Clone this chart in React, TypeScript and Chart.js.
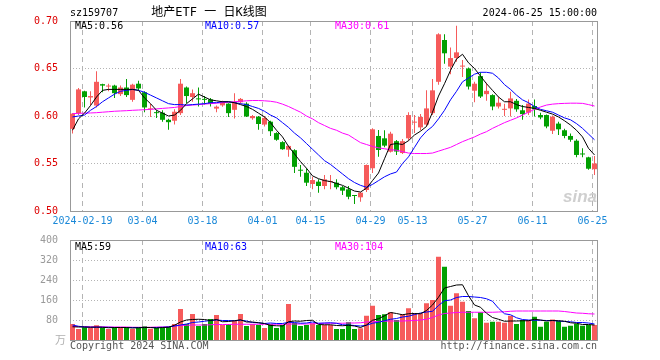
import React, { useEffect, useRef } from "react";
import { Chart, registerables } from "chart.js";

Chart.register(...registerables);

// ---------------- data ----------------
const TICK_INDEX = [2, 12, 22, 32, 40, 50, 57, 67, 77, 87];
const TICK_LABELS = ["2024-02-19", "03-04", "03-18", "04-01", "04-15", "04-29", "05-13", "05-27", "06-11", "06-25"];
const PRICE_TICKS = [0.5, 0.55, 0.6, 0.65, 0.7];
const VOL_TICKS = [0, 80, 160, 240, 320, 400];

const OPEN = [
  0.5865, 0.603, 0.626, 0.6195, 0.611, 0.6335, 0.631, 0.632, 0.623, 0.63,
  0.617, 0.634, 0.625, 0.607, 0.604, 0.6035, 0.596, 0.595, 0.603, 0.63,
  0.62, 0.618, 0.618, 0.6175, 0.6078, 0.6112, 0.613, 0.6065, 0.6145, 0.613,
  0.5977, 0.5993, 0.591, 0.594, 0.582, 0.5725, 0.5645, 0.564, 0.5428, 0.5403,
  0.5284, 0.5309, 0.5263, 0.5305, 0.5298, 0.525, 0.5228, 0.516, 0.5144, 0.5221,
  0.545, 0.579, 0.5765, 0.5624, 0.5735, 0.561, 0.5765, 0.593, 0.588, 0.591,
  0.603, 0.636, 0.68, 0.652, 0.661, 0.652, 0.65, 0.6266, 0.642, 0.623,
  0.622, 0.61, 0.6065, 0.608, 0.616, 0.606, 0.6035, 0.6105, 0.601, 0.601,
  0.5845, 0.592, 0.585, 0.579, 0.574, 0.5605, 0.5565, 0.544,
];
const HIGH = [
  0.603, 0.6295, 0.6265, 0.626, 0.647, 0.634, 0.634, 0.633, 0.632, 0.639,
  0.634, 0.637, 0.626, 0.613, 0.606, 0.606, 0.597, 0.607, 0.639, 0.631,
  0.628, 0.63, 0.621, 0.619, 0.611, 0.616, 0.6135, 0.624, 0.619, 0.6145,
  0.601, 0.6, 0.6, 0.595, 0.583, 0.5735, 0.569, 0.565, 0.5484, 0.545,
  0.536, 0.5335, 0.538, 0.538, 0.5333, 0.5263, 0.5263, 0.5165, 0.52, 0.549,
  0.587, 0.5853, 0.585, 0.5835, 0.5747, 0.5758, 0.604, 0.601, 0.602, 0.627,
  0.639, 0.687, 0.686, 0.672, 0.695, 0.659, 0.651, 0.636, 0.646, 0.635,
  0.623, 0.62, 0.613, 0.6255, 0.618, 0.6115, 0.6175, 0.6175, 0.6035, 0.6015,
  0.6005, 0.594, 0.5865, 0.5815, 0.5755, 0.566, 0.557, 0.558,
];
const LOW = [
  0.5815, 0.601, 0.609, 0.611, 0.609, 0.625, 0.626, 0.619, 0.621, 0.62,
  0.615, 0.627, 0.604, 0.599, 0.598, 0.594, 0.5855, 0.591, 0.601, 0.6135,
  0.615, 0.61, 0.612, 0.61, 0.604, 0.6098, 0.599, 0.5975, 0.613, 0.599,
  0.596, 0.5855, 0.589, 0.579, 0.574, 0.5645, 0.557, 0.54, 0.5361, 0.5263,
  0.5228, 0.5193, 0.523, 0.5228, 0.5228, 0.5168, 0.5123, 0.5074, 0.5098, 0.52,
  0.54, 0.557, 0.567, 0.5615, 0.559, 0.56, 0.574, 0.582, 0.585, 0.589,
  0.601, 0.633, 0.655, 0.644, 0.657, 0.641, 0.628, 0.6145, 0.619, 0.616,
  0.606, 0.608, 0.6, 0.5995, 0.6045, 0.596, 0.601, 0.5995, 0.5965, 0.587,
  0.581, 0.58, 0.5765, 0.573, 0.5565, 0.5565, 0.5435, 0.538,
];
const CLOSE = [
  0.6025, 0.628, 0.62, 0.621, 0.636, 0.632, 0.632, 0.624, 0.63, 0.622,
  0.633, 0.629, 0.609, 0.608, 0.603, 0.596, 0.5935, 0.6045, 0.634, 0.621,
  0.624, 0.6175, 0.617, 0.613, 0.6098, 0.6147, 0.603, 0.615, 0.618, 0.5995,
  0.6, 0.5916, 0.598, 0.584, 0.575, 0.565, 0.5685, 0.5465, 0.5424, 0.5298,
  0.5326, 0.5263, 0.5333, 0.531, 0.525, 0.5214, 0.515, 0.5158, 0.5193, 0.5484,
  0.586, 0.5642, 0.5688, 0.5814, 0.5626, 0.5735, 0.601, 0.594, 0.599, 0.608,
  0.627, 0.686, 0.666, 0.661, 0.667, 0.653, 0.631, 0.634, 0.6205, 0.6265,
  0.61, 0.614, 0.607, 0.6185, 0.607, 0.602, 0.613, 0.607, 0.5985, 0.589,
  0.5993, 0.586, 0.579, 0.575, 0.559, 0.5595, 0.5445, 0.55,
];
const MA5 = [
  0.585, 0.597, 0.603, 0.611, 0.62, 0.627, 0.628, 0.628, 0.628, 0.628,
  0.628, 0.627, 0.619, 0.613, 0.606, 0.603, 0.6, 0.601, 0.606, 0.613,
  0.618, 0.623, 0.62, 0.617, 0.616, 0.615, 0.615, 0.614, 0.612, 0.61,
  0.607, 0.603, 0.599, 0.593, 0.585, 0.578, 0.568, 0.56, 0.552, 0.545,
  0.537, 0.534, 0.532, 0.531, 0.529, 0.527, 0.524, 0.521, 0.52, 0.524,
  0.532, 0.54, 0.555, 0.57, 0.571, 0.57, 0.574, 0.58, 0.584, 0.589,
  0.604, 0.621, 0.634, 0.648, 0.66, 0.665, 0.656, 0.65, 0.642, 0.634,
  0.627, 0.62, 0.615, 0.615, 0.612, 0.61, 0.609, 0.608, 0.606, 0.604,
  0.602, 0.599, 0.595, 0.5905, 0.585, 0.578, 0.566, 0.559,
];
const MA10 = [
  0.599, 0.6, 0.601, 0.606, 0.61, 0.615, 0.619, 0.623, 0.626, 0.627,
  0.628, 0.627, 0.625, 0.622, 0.619, 0.616, 0.613, 0.612, 0.612, 0.6115,
  0.612, 0.6125, 0.613, 0.614, 0.614, 0.615, 0.615, 0.614, 0.613, 0.612,
  0.61, 0.608, 0.605, 0.601, 0.598, 0.593, 0.588, 0.582, 0.577, 0.571,
  0.565, 0.559, 0.553, 0.549, 0.544, 0.539, 0.534, 0.53, 0.527, 0.525,
  0.528, 0.532, 0.536, 0.539, 0.541, 0.55, 0.557, 0.567, 0.577, 0.584,
  0.589, 0.597, 0.606, 0.617, 0.626, 0.636, 0.64, 0.644, 0.646, 0.646,
  0.645, 0.64, 0.633, 0.628, 0.622, 0.617, 0.614, 0.61, 0.607, 0.6055,
  0.604, 0.601, 0.598, 0.596, 0.592, 0.587, 0.581, 0.575,
];
const MA30 = [
  0.6025, 0.6028, 0.603, 0.6032, 0.6035, 0.604, 0.6045, 0.605, 0.6053, 0.6056,
  0.606, 0.6063, 0.6066, 0.607, 0.6075, 0.608, 0.6085, 0.609, 0.61, 0.611,
  0.6115, 0.612, 0.6125, 0.613, 0.6135, 0.614, 0.6145, 0.615, 0.6155, 0.616,
  0.6163, 0.6163, 0.616, 0.6155, 0.6145, 0.6125, 0.61, 0.607, 0.604, 0.6,
  0.597, 0.593, 0.59, 0.587, 0.585, 0.582, 0.58, 0.576, 0.572, 0.57,
  0.568, 0.5665, 0.5655, 0.5645, 0.564, 0.5625, 0.561, 0.5605, 0.5605, 0.5605,
  0.561, 0.563, 0.565, 0.567, 0.57, 0.573, 0.5755, 0.578, 0.581, 0.5835,
  0.587, 0.59, 0.593, 0.5955, 0.598, 0.601, 0.604, 0.607, 0.6095, 0.6115,
  0.6125, 0.613, 0.6133, 0.6135, 0.6135, 0.6133, 0.612, 0.6105,
];
const VOLUME = [
  64, 44, 51, 48, 59, 49, 44, 51, 48, 51,
  44, 49, 55, 45, 48, 51, 53, 64, 124, 64,
  104, 56, 64, 84, 100, 60, 64, 77, 104, 56,
  64, 60, 48, 64, 48, 60, 144, 68, 56, 60,
  67, 60, 60, 60, 44, 44, 71, 44, 47, 97,
  137, 100, 103, 111, 80, 103, 127, 107, 107, 147,
  160, 333, 293, 137, 187, 153, 116, 87, 111, 69,
  73, 73, 69, 97, 64, 80, 80, 93, 53, 73,
  82, 76, 53, 57, 65, 57, 60, 60,
];
const VOL_MA5 = [
  53, 52, 52, 51, 52, 51, 49, 50, 50, 50,
  48, 49, 50, 50, 48, 50, 51, 59, 72, 80,
  82, 83, 82, 78, 82, 73, 74, 77, 81, 72,
  72, 69, 66, 58, 57, 56, 73, 76, 75, 78,
  79, 62, 61, 61, 58, 57, 59, 56, 50, 60,
  79, 85, 97, 110, 106, 101, 105, 106, 105, 118,
  140, 171, 208, 214, 220, 221, 177, 140, 131, 107,
  90, 83, 75, 76, 76, 77, 77, 83, 80, 76,
  78, 77, 75, 69, 67, 62, 62, 60,
];
const VOL_MA10 = [
  60, 55, 52, 51, 51, 51, 51, 50, 50, 50,
  50, 50, 50, 50, 50, 51, 52, 56, 60, 64,
  70, 72, 75, 78, 80, 78, 78, 77, 79, 76,
  70, 69, 66, 68, 66, 66, 71, 70, 67, 68,
  72, 67, 68, 69, 67, 61, 60, 58, 56, 59,
  67, 71, 77, 83, 86, 92, 95, 102, 108, 112,
  115, 138, 157, 160, 170, 174, 174, 172, 170, 165,
  155, 127, 105, 101, 89, 82, 80, 79, 79, 78,
  78, 76, 74, 73, 70, 70, 68, 64,
];
const VOL_MA30 = [
  54, 54, 54, 53, 53, 53, 52, 52, 52, 52,
  51, 51, 51, 51, 52, 52, 53, 56, 58, 59,
  60, 60, 60, 61, 62, 62, 62, 63, 63, 63,
  63, 63, 63, 63, 63, 63, 64, 64, 64, 64,
  65, 66, 67, 67, 67, 67, 68, 68, 69, 72,
  73, 74, 75, 76, 76, 76, 77, 78, 80, 83,
  90, 100, 106, 108, 110, 111, 111, 111, 111, 111,
  111, 112, 113, 115, 116, 116, 116, 116, 116, 116,
  116, 116, 114, 111, 108, 107, 105, 104,
];

const CODE_TEXT = "sz159707";
const TITLE_TEXT = "地产ETF 一 日K线图";
const DATE_TEXT = "2024-06-25 15:00:00";
const PRICE_LEGEND = ["MA5:0.56", "MA10:0.57", "MA30:0.61"];
const VOL_LEGEND = ["MA5:59", "MA10:63", "MA30:104"];
const VOL_UNIT = "万";
const COPYRIGHT = "Copyright 2024 SINA.COM";
const SITE = "http://finance.sina.com.cn";

// ---------------- styles ----------------
const RED = "#f65b5b";
const GREEN = "#02a002";
const MA_COLORS = ["#000000", "#0000ff", "#ff00ff"];
const DATE_COLOR = "#1a88d8";
const GRID = "#b4b4b4";
const BORDER = "#999999";
const MONO = "'DejaVu Sans Mono', 'Liberation Mono', monospace";
const X_MIN = -5 / 12;
const X_MAX = 88 - 5 / 12;

const upColor = (i: number) => (CLOSE[i] >= OPEN[i] ? RED : GREEN);
const pts = (arr: number[]) => arr.map((v, i) => ({ x: i, y: v }));

function framePlugin(id: string, hValues: number[]) {
  return {
    id,
    beforeDatasetsDraw(chart: any) {
      const { ctx, chartArea: a, scales } = chart;
      const x = scales.x;
      const y = scales.y;
      ctx.save();
      ctx.lineWidth = 1;
      ctx.strokeStyle = GRID;
      ctx.setLineDash([1, 2]);
      for (const v of hValues) {
        const py = Math.round(y.getPixelForValue(v)) + 0.5;
        ctx.beginPath();
        ctx.moveTo(a.left, py);
        ctx.lineTo(a.right, py);
        ctx.stroke();
      }
      ctx.setLineDash([5, 4]);
      for (const i of TICK_INDEX) {
        const px = Math.round(x.getPixelForValue(i - 0.5)) + 0.5;
        ctx.beginPath();
        ctx.moveTo(px, a.top);
        ctx.lineTo(px, a.bottom);
        ctx.stroke();
      }
      ctx.setLineDash([]);
      ctx.strokeStyle = BORDER;
      ctx.strokeRect(Math.round(a.left) + 0.5, Math.round(a.top) + 0.5, Math.round(a.width) - 1, Math.round(a.height));
      ctx.restore();
    },
  };
}

const dateLabelPlugin = {
  id: "dateLabels",
  afterDraw(chart: any) {
    const { ctx, scales } = chart;
    ctx.save();
    ctx.font = `10px ${MONO}`;
    ctx.fillStyle = DATE_COLOR;
    ctx.textAlign = "center";
    ctx.textBaseline = "middle";
    TICK_INDEX.forEach((i, k) => {
      const px = Math.round(scales.x.getPixelForValue(i - 0.5)) + 0.5;
      ctx.fillText(TICK_LABELS[k], px, 221);
    });
    ctx.restore();
  },
};

type TextItem = { text: string; x: number; y: number; color: string; font: string; align?: CanvasTextAlign };
function textPlugin(id: string, items: TextItem[], under?: TextItem[]) {
  const draw = (ctx: CanvasRenderingContext2D, list: TextItem[]) => {
    ctx.save();
    for (const t of list) {
      ctx.font = t.font;
      ctx.fillStyle = t.color;
      ctx.textAlign = t.align || "left";
      ctx.textBaseline = "middle";
      ctx.fillText(t.text, t.x, t.y);
    }
    ctx.restore();
  };
  return {
    id,
    beforeDatasetsDraw(chart: any) {
      if (under) draw(chart.ctx, under);
    },
    afterDraw(chart: any) {
      draw(chart.ctx, items);
    },
  };
}

function xScale() {
  return {
    type: "linear",
    min: X_MIN,
    max: X_MAX,
    offset: false,
    display: false,
    grid: { display: false },
    border: { display: false },
    ticks: { display: false },
  };
}

const lineDs = (data: number[], color: string) => ({
  type: "line",
  data: pts(data),
  borderColor: color,
  borderWidth: 1,
  pointRadius: 0,
  tension: 0,
  fill: false,
});

export default function App() {
  const priceRef = useRef<HTMLCanvasElement>(null);
  const volRef = useRef<HTMLCanvasElement>(null);

  useEffect(() => {
    const legendFont = `10px ${MONO}`;
    const priceChart = new Chart(priceRef.current as HTMLCanvasElement, {
      type: "bar",
      data: {
        datasets: [
          lineDs(MA5, MA_COLORS[0]),
          lineDs(MA10, MA_COLORS[1]),
          lineDs(MA30, MA_COLORS[2]),
          {
            type: "bar",
            data: OPEN.map((o, i) => ({ x: i, y: [o, CLOSE[i]] })),
            backgroundColor: (c: any) => upColor(c.dataIndex),
            barThickness: 5,
            grouped: false,
            minBarLength: 1,
            inflateAmount: 0,
            borderWidth: 0,
          },
          {
            type: "bar",
            data: LOW.map((l, i) => ({ x: i, y: [l, HIGH[i]] })),
            backgroundColor: (c: any) => upColor(c.dataIndex),
            barThickness: 1,
            grouped: false,
            minBarLength: 1,
            inflateAmount: 0,
            borderWidth: 0,
          },
        ] as any,
      },
      options: {
        responsive: false,
        animation: false,
        devicePixelRatio: 1,
        events: [],
        layout: { padding: { left: 0, right: 62, top: 21, bottom: 21 } },
        plugins: { legend: { display: false }, tooltip: { enabled: false }, title: { display: false } },
        scales: {
          x: xScale() as any,
          y: {
            type: "linear",
            min: 0.5,
            max: 0.7,
            afterBuildTicks: (s: any) => {
              s.ticks = PRICE_TICKS.map((v) => ({ value: v }));
            },
            afterFit: (s: any) => {
              s.width = 70;
            },
            grid: { display: false },
            border: { display: false },
            ticks: {
              padding: 4,
              color: "#dd0000",
              font: { family: MONO, size: 10 },
              callback: (v: any) => Number(v).toFixed(2),
            },
          },
        },
      },
      plugins: [
        framePlugin("frame1", [0.55, 0.6, 0.65]),
        dateLabelPlugin,
        textPlugin(
          "text1",
          [
            { text: CODE_TEXT, x: 70, y: 13, color: "#000", font: `10px ${MONO}` },
            { text: TITLE_TEXT, x: 209, y: 13, color: "#000", font: `12px 'DejaVu Sans Mono', 'Noto Sans CJK SC'`, align: "center" },
            { text: DATE_TEXT, x: 597, y: 13, color: "#000", font: `10px ${MONO}`, align: "right" },
            { text: PRICE_LEGEND[0], x: 75, y: 26, color: MA_COLORS[0], font: legendFont },
            { text: PRICE_LEGEND[1], x: 205, y: 26, color: MA_COLORS[1], font: legendFont },
            { text: PRICE_LEGEND[2], x: 335, y: 26, color: MA_COLORS[2], font: legendFont },
          ],
          [{ text: "sina", x: 597, y: 197, color: "#cfcfcf", font: "italic bold 17px 'Liberation Sans', sans-serif", align: "right" }]
        ) as any,
      ],
    } as any);

    const volChart = new Chart(volRef.current as HTMLCanvasElement, {
      type: "bar",
      data: {
        datasets: [
          lineDs(VOL_MA5, MA_COLORS[0]),
          lineDs(VOL_MA10, MA_COLORS[1]),
          lineDs(VOL_MA30, MA_COLORS[2]),
          {
            type: "bar",
            data: VOLUME.map((v, i) => ({ x: i, y: v })),
            backgroundColor: (c: any) => upColor(c.dataIndex),
            barThickness: 5,
            grouped: false,
            inflateAmount: 0,
            borderWidth: 0,
          },
        ] as any,
      },
      options: {
        responsive: false,
        animation: false,
        devicePixelRatio: 1,
        events: [],
        layout: { padding: { left: 0, right: 62, top: 12, bottom: 20 } },
        plugins: { legend: { display: false }, tooltip: { enabled: false }, title: { display: false } },
        scales: {
          x: xScale() as any,
          y: {
            type: "linear",
            min: 0,
            max: 400,
            afterBuildTicks: (s: any) => {
              s.ticks = VOL_TICKS.map((v) => ({ value: v }));
            },
            afterFit: (s: any) => {
              s.width = 70;
            },
            grid: { display: false },
            border: { display: false },
            ticks: {
              padding: 4,
              color: "#9a9a9a",
              font: { family: MONO, size: 10 },
              callback: (v: any) => (Number(v) === 0 ? "" : String(v)),
            },
          },
        },
      },
      plugins: [
        framePlugin("frame2", [80, 160, 240, 320]),
        textPlugin("text2", [
          { text: VOL_LEGEND[0], x: 75, y: 19, color: MA_COLORS[0], font: legendFont },
          { text: VOL_LEGEND[1], x: 205, y: 19, color: MA_COLORS[1], font: legendFont },
          { text: VOL_LEGEND[2], x: 335, y: 19, color: MA_COLORS[2], font: legendFont },
          { text: VOL_UNIT, x: 66, y: 112, color: "#b0b0b0", font: `11px 'Noto Sans CJK SC'`, align: "right" },
          { text: COPYRIGHT, x: 70, y: 118, color: "#555", font: `10px ${MONO}` },
          { text: SITE, x: 597, y: 118, color: "#555", font: `10px ${MONO}`, align: "right" },
        ]) as any,
      ],
    } as any);

    return () => {
      priceChart.destroy();
      volChart.destroy();
    };
  }, []);

  return (
    <div style={{ position: "fixed", left: 0, top: 0, width: 660, height: 360, background: "#fff" }}>
      <canvas ref={priceRef} width={660} height={232} style={{ position: "absolute", left: 0, top: 0 }} />
      <canvas ref={volRef} width={660} height={132} style={{ position: "absolute", left: 0, top: 228 }} />
    </div>
  );
}
